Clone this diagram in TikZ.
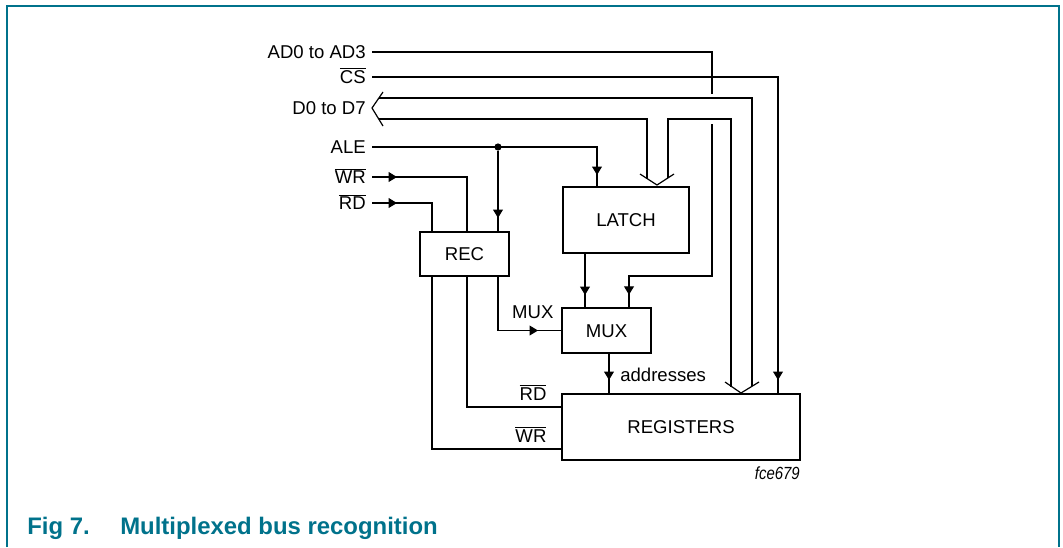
\documentclass[tikz,border=0pt]{standalone}
\usepackage{fontspec}
\setmainfont{Liberation Sans}
\usetikzlibrary{arrows.meta,calc,decorations.markings}
\definecolor{nxpteal}{RGB}{0,114,139}
\tikzset{
  wire/.style={line width=0.85pt},
  blk/.style={draw, line width=2pt, outer sep=0pt, anchor=north west, text height=9.45pt, text depth=0pt},
  lbl/.style={anchor=east, inner xsep=0.15cm, inner ysep=0pt, text height=9.45pt, text depth=0pt},
  tag/.style={anchor=south east, inner xsep=0.375cm, inner ysep=0.15cm, text height=9.45pt, text depth=0pt},
  arr/.style={postaction={decorate}, decoration={markings, mark=at position #1 with {\arrow{Triangle[length=6pt,width=7pt]}}}},
  jdot/.style={circle, fill, inner sep=0pt, minimum size=0.18cm},
  figcap/.style={anchor=base west, inner sep=0pt, text=nxpteal, font=\fontsize{17}{20}\selectfont\bfseries},
}
\begin{document}
\begin{tikzpicture}[x=0.025cm, y=-0.025cm, font=\fontsize{13.2}{15.5}\selectfont]
    \useasboundingbox (0,0) rectangle (1063,547);
    \draw[nxpteal, line width=1.4pt] (7,547) -- (7,6) -- (1059,6) -- (1059,547);

    % blocks
    \node[blk, minimum width=2.225cm, minimum height=1.1cm] (rec) at (420,232) {REC};
    \node[blk, minimum width=3.15cm, minimum height=1.65cm] (latch) at (563,187) {LATCH};
    \node[blk, minimum width=2.225cm, minimum height=1.125cm] (mux) at (562,308) {MUX};
    \node[blk, minimum width=5.95cm, minimum height=1.65cm] (regs) at (562,394) {REGISTERS};

    % inputs
    \node[lbl] (ad) at (372,52) {AD0 to AD3};
    \node[lbl] (cs) at (372,77) {$\overline{\mbox{CS}}$};
    \node[lbl] (dbus) at (372,108) {D0 to D7};
    \node[lbl] (ale) at (372,147) {ALE};
    \node[lbl] (wr) at (372,177) {$\overline{\mbox{WR}}$};
    \node[lbl] (rd) at (372,203) {$\overline{\mbox{RD}}$};

    % data bus
    \coordinate (dhi) at ($(dbus.east)+(7,-10)$);
    \coordinate (dlo) at ($(dbus.east)+(7,11)$);
    \coordinate (lv) at ($(latch.north west)+(94,-2)$);
    \coordinate (rv) at ($(regs.north west)+(179,-1)$);
    \draw[wire] ($(dbus.east)+(11,-16)$) -- (dbus.east) -- ++(11,18);
    \draw[wire] (dhi) -| ($(rv)+(11,-7)$);
    \draw[wire] (dlo) -| ($(lv)+(-10,-6.5)$);
    \draw[wire] ($(lv)+(11,-7)$) -- ++(0,-59) -| ($(rv)+(-10,-6.5)$);
    \draw[wire] ($(lv)+(-17,-11)$) -- (lv) -- ++(17,-11);
    \draw[wire] ($(rv)+(-16,-11)$) -- (rv) -- ++(18,-11);

    % address lines and chip select
    \draw[wire] (ad.east) -| ($(dhi)+(333,-4)$);
    \draw[wire, arr=-0.33cm] ($(dlo)+(333,5)$) -- ++(0,152) -| ($(mux.north west)+(67,0)$);
    \draw[wire, arr=-0.35cm] (cs.east) -| ($(regs.north west)+(216,0)$);

    % control lines
    \node[jdot] (j) at ($(ale.east)+(126,0)$) {};
    \draw[wire, arr=-0.3cm] (ale.east) -| ($(latch.north west)+(34,0)$);
    \draw[wire, arr=-0.35cm] (j) -- ($(rec.north west)+(78,0)$);
    \draw[wire, arr=0.625cm] (wr.east) -| ($(rec.north west)+(47,0)$);
    \draw[wire, arr=0.625cm] (rd.east) -| ($(rec.north west)+(12,0)$);

    % outputs of REC
    \draw[wire] ($(rec.south west)+(12,0)$) |- ($(regs.north west)+(0,55)$) node[tag] (wrout) {$\overline{\mbox{WR}}$};
    \draw[wire] ($(rec.south west)+(47,0)$) |- ($(regs.north west)+(0,13)$) node[tag] (rdout) {$\overline{\mbox{RD}}$};
    \draw[wire, arr=-0.6cm] ($(rec.south west)+(78,0)$) |- (mux.west) node[tag, inner xsep=0.2cm, inner ysep=0.29cm] (muxin) {MUX};

    \draw[wire, arr=-0.325cm] ($(latch.south west)+(22,0)$) -- ($(mux.north west)+(23,0)$);
    \draw[wire, arr=-0.35cm] ($(mux.south west)+(47,0)$) -- ($(regs.north west)+(47,0)$);
    \node[anchor=west, inner xsep=0.275cm, inner ysep=0pt, text height=9.45pt, text depth=0pt] (addr) at ($(regs.north west)+(47,-19)$) {addresses};

    \node[anchor=base east, inner sep=0pt] (fce) at ($(regs.south east)+(0,19)$) {\scalebox{0.85}[1]{\fontsize{12.5}{14}\selectfont\itshape fce679}};

    % caption
    \node[figcap] (fignum) at (27,534) {Fig 7.};
    \node[figcap] (figtitle) at (120,534) {Multiplexed bus recognition};
\end{tikzpicture}
\end{document}
